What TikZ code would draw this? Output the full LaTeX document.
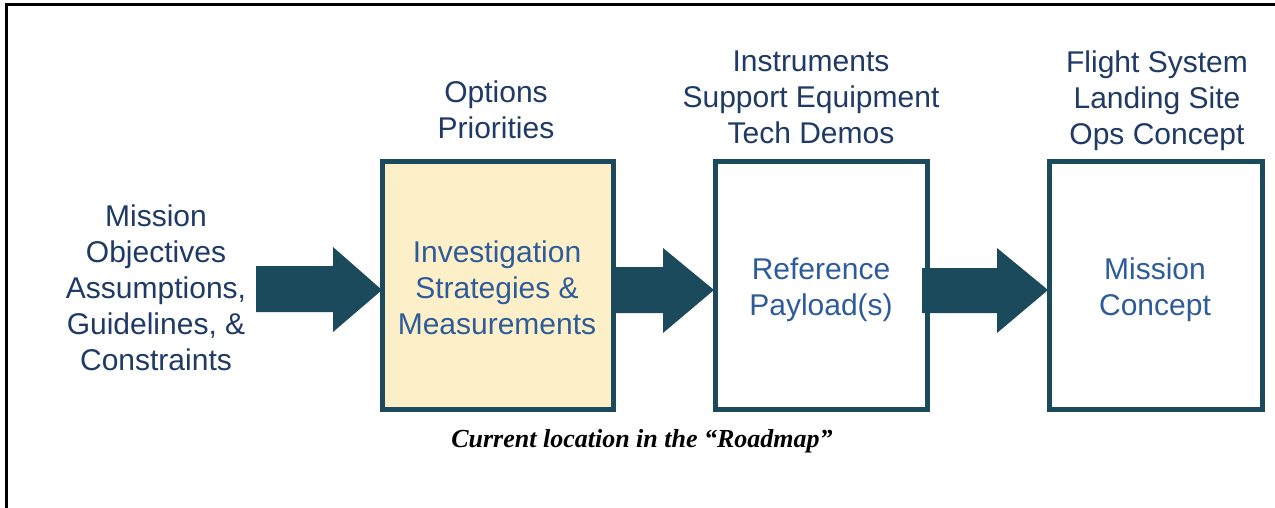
\documentclass[tikz,border=0pt]{standalone}
\usepackage{fontspec}
\setmainfont{Liberation Sans}
\newfontfamily\capfont{Liberation Serif}
\definecolor{teal}{HTML}{1B4A5C}
\definecolor{boxfill}{HTML}{FDF0C9}
\definecolor{outtxt}{HTML}{1F3A64}
\definecolor{intxt}{HTML}{2E5C9A}
\tikzset{
  stagebox/.style={draw=teal, line width=5pt, minimum width=231pt, minimum height=248pt, inner sep=0pt, outer sep=0pt},
  outlabel/.style={text=outtxt, align=center, inner sep=0pt, font=\fontsize{30}{36}\selectfont},
  inlabel/.style={text=intxt, align=center, inner sep=0pt, font=\fontsize{30}{36}\selectfont},
  bigarrow/.style={fill=teal, draw=none}
}
\begin{document}
\begin{tikzpicture}[x=1pt,y=-1pt]
\useasboundingbox (0,0) rectangle (1275,508);
\fill[white] (0,0) rectangle (1275,508);
\draw[line width=3pt] (6,508) -- (6,5) -- (1275,5);
% boxes
\node[stagebox, fill=boxfill, minimum width=231pt] (b1) at (498,285.5) {};
\node[stagebox, fill=white, minimum width=212pt] (b2) at (821.5,285.5) {};
\node[stagebox, fill=white, minimum width=213pt] (b3) at (1156,285.5) {};
% arrows
\coordinate (t1) at (382,290);
\coordinate (t2) at (714,290);
\coordinate (t3) at (1048,290);
\fill[bigarrow] (256,266) -- (333,266) -- (333,247) -- (t1) -- (333,332) -- (333,312) -- (256,312) -- cycle;
\fill[bigarrow] (613,267) -- (663,267) -- (663,248) -- (t2) -- (663,333) -- (663,313) -- (613,313) -- cycle;
\fill[bigarrow] (922,268) -- (997,268) -- (997,248) -- (t3) -- (997,333) -- (997,313) -- (922,313) -- cycle;
% labels
\node[outlabel] (lin) at (156,288) {Mission\\Objectives\\Assumptions,\\Guidelines, \&\\Constraints};
\node[outlabel] (l1) at (496,110) {Options\\Priorities};
\node[outlabel] (l2) at (811,97) {Instruments\\Support Equipment\\Tech Demos};
\node[outlabel] (l3) at (1157,100.5) {Flight System\\Landing Site\\Ops Concept};
\node[inlabel] (i1) at (497,288) {Investigation\\Strategies \&\\Measurements};
\node[inlabel] (i2) at (821,289.5) {Reference\\Payload(s)};
\node[inlabel] (i3) at (1155,289.5) {Mission\\Concept};
\node[inner sep=0pt, font=\capfont\bfseries\itshape\fontsize{26}{30}\selectfont] (cap) at (642,441) {Current location in the “Roadmap”};
\end{tikzpicture}
\end{document}
